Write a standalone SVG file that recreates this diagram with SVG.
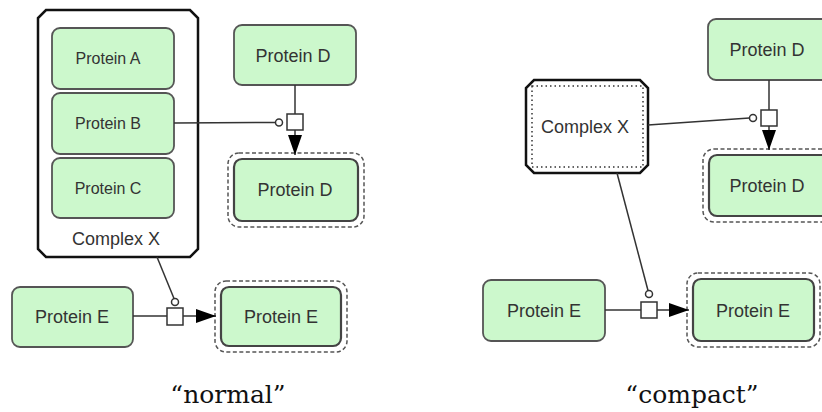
<svg xmlns="http://www.w3.org/2000/svg" width="822" height="412" viewBox="0 0 822 412">
<defs>
<style>
.prot{fill:#ccf8cc;stroke:#555;stroke-width:1.8}
.prod{fill:#ccf8cc;stroke:#444;stroke-width:2.2}
.dash{fill:#fff;stroke:#555;stroke-width:1.5;stroke-dasharray:4 2.5}
.lbl{font-family:"Liberation Sans",Arial,sans-serif;font-size:18px;fill:#333;text-anchor:middle}
.lbl16{font-family:"Liberation Sans",Arial,sans-serif;font-size:16px;fill:#333;text-anchor:middle}
.cx{fill:#fff;stroke:#111;stroke-width:2.5}
.cap{font-family:"DejaVu Serif","Liberation Serif",serif;font-size:25px;fill:#111;text-anchor:middle}
.edge{fill:none;stroke:#333;stroke-width:1.5}
.pn{fill:#fff;stroke:#333;stroke-width:1.5}
</style>
<marker id="arr" markerUnits="userSpaceOnUse" markerWidth="20" markerHeight="14" refX="20" refY="7" orient="auto">
<path d="M0,0 L20,7 L0,14 Z" fill="#000"/>
</marker>
</defs>

<!-- normal -->
<g id="complexX-normal">
<path class="cx" d="M46,10 H190 L198,18 V249 L190,257 H46 L38,249 V18 Z"/>
<text class="lbl" x="116" y="245" fill="#444">Complex X</text>
</g>
<g id="proteinA"><rect class="prot" x="52" y="28" width="122" height="61" rx="8"/><text class="lbl16" x="108" y="64">Protein A</text></g>
<g id="proteinB"><rect class="prot" x="52" y="93" width="122" height="61" rx="8"/><text class="lbl16" x="108" y="129">Protein B</text></g>
<g id="proteinC"><rect class="prot" x="52" y="158" width="122" height="60" rx="8"/><text class="lbl16" x="108" y="194">Protein C</text></g>
<g id="proteinD-top-normal"><rect class="prot" x="234" y="25" width="122" height="60" rx="8"/><text class="lbl" x="293" y="62">Protein D</text></g>
<g id="proteinD-bot-normal">
<rect class="dash" x="228" y="153" width="136" height="74" rx="11"/>
<rect class="prod" x="234" y="159" width="124" height="62" rx="8"/>
<text class="lbl" x="295" y="196">Protein D</text>
</g>
<g id="proteinE-left-normal"><rect class="prot" x="12" y="287" width="121" height="60" rx="8"/><text class="lbl" x="72" y="323">Protein E</text></g>
<g id="proteinE-right-normal">
<rect class="dash" x="215" y="281" width="132" height="71" rx="11"/>
<rect class="prod" x="221" y="287" width="120" height="59" rx="8"/>
<text class="lbl" x="281" y="323">Protein E</text>
</g>

<!-- compact -->
<g id="complexX-compact">
<path class="cx" d="M534,80 H640 L648,88 V165 L640,173 H534 L526,165 V88 Z" stroke-width="3"/>
<rect x="532" y="86" width="111" height="81" fill="none" stroke="#333" stroke-width="1.5" stroke-dasharray="1.5 3"/>
<text class="lbl" x="585" y="133" fill="#444">Complex X</text>
</g>
<g id="proteinD-top-compact"><rect class="prot" x="708" y="19" width="124" height="61" rx="8"/><text class="lbl" x="767" y="56">Protein D</text></g>
<g id="proteinD-bot-compact">
<rect class="dash" x="703" y="149" width="132" height="73" rx="11"/>
<rect class="prod" x="709" y="155" width="122" height="61" rx="8"/>
<text class="lbl" x="767" y="192">Protein D</text>
</g>
<g id="proteinE-left-compact"><rect class="prot" x="483" y="280" width="122" height="61" rx="8"/><text class="lbl" x="544" y="317">Protein E</text></g>
<g id="proteinE-right-compact">
<rect class="dash" x="687" y="273" width="133" height="74" rx="11"/>
<rect class="prod" x="693" y="279" width="121" height="62" rx="8"/>
<text class="lbl" x="753" y="317">Protein E</text>
</g>

<g id="connectors">
<!-- normal: D -->
<line class="edge" x1="174" y1="123" x2="275.5" y2="122.5"/>
<circle class="pn" cx="279" cy="122.5" r="3.5"/>
<line class="edge" x1="295" y1="85" x2="295" y2="114"/>
<line class="edge" x1="295" y1="130" x2="295" y2="155" marker-end="url(#arr)"/>
<rect class="pn" x="287" y="114" width="16" height="16"/>
<!-- normal: E -->
<line class="edge" x1="157" y1="257" x2="174" y2="298.5"/>
<circle class="pn" cx="175" cy="302" r="3.5"/>
<line class="edge" x1="133" y1="316" x2="167" y2="316"/>
<line class="edge" x1="183" y1="316" x2="216" y2="316" marker-end="url(#arr)"/>
<rect class="pn" x="167" y="308" width="16" height="17"/>
<!-- compact: D -->
<line class="edge" x1="648" y1="125" x2="749.5" y2="118"/>
<circle class="pn" cx="753" cy="118" r="3.5"/>
<line class="edge" x1="769" y1="80" x2="769" y2="110"/>
<line class="edge" x1="769" y1="126" x2="769" y2="150" marker-end="url(#arr)"/>
<rect class="pn" x="761" y="110" width="16" height="16"/>
<!-- compact: E -->
<line class="edge" x1="617" y1="173" x2="648" y2="290.5"/>
<circle class="pn" cx="649" cy="294" r="3.5"/>
<line class="edge" x1="605" y1="310" x2="641" y2="310"/>
<line class="edge" x1="657" y1="310" x2="689" y2="310" marker-end="url(#arr)"/>
<rect class="pn" x="641" y="302" width="16" height="16"/>
</g>

<text class="cap" x="228" y="403">“normal”</text>
<text class="cap" x="692" y="403">“compact”</text>
</svg>
